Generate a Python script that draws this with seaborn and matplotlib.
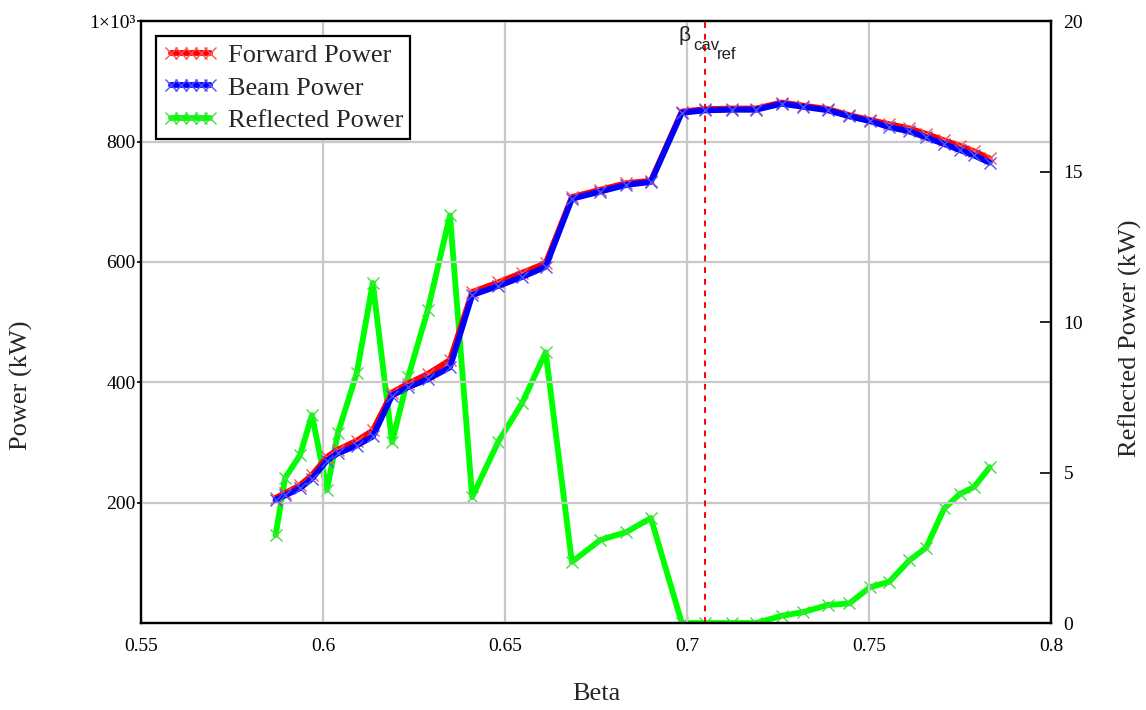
import matplotlib
matplotlib.use("Agg")
import matplotlib.pyplot as plt
import seaborn as sns
import pandas as pd
from matplotlib.ticker import FixedLocator, FuncFormatter

# Cavity beta sweep
beta = [0.587, 0.5896, 0.5937, 0.597, 0.6011, 0.6041, 0.6093, 0.6137, 0.619,
        0.6234, 0.6288, 0.6349, 0.641, 0.6481, 0.6547, 0.6612, 0.6684, 0.6762,
        0.6833, 0.6901, 0.6986, 0.705, 0.7123, 0.719, 0.726, 0.7318, 0.7388,
        0.7446, 0.7503, 0.7556, 0.7611, 0.7657, 0.7707, 0.775, 0.7789, 0.7832]

# Forward power (kW)
forward_kw = [208, 216, 229, 246, 276, 288, 303, 320, 383, 398, 414, 437,
              550, 566, 582, 598, 708, 720, 731, 735, 850, 854, 855, 855,
              865, 860, 854, 844, 836, 829, 822, 813, 802, 793, 784, 772]

# Beam power (kW)
beam_kw = [205, 212, 224, 240, 270, 282, 295, 310, 378, 392, 405, 425,
           545, 560, 575, 592, 705, 717, 728, 733, 848, 852, 853, 853,
           863, 858, 852, 842, 834, 824, 817, 807, 796, 786, 777, 765]

# Reflected power (kW)
reflected_kw = [2.92, 4.82, 5.58, 6.91, 4.42, 6.31, 8.31, 11.30, 6.01, 8.17,
                10.40, 13.55, 4.19, 6.01, 7.31, 9.00, 2.03, 2.76, 3.02, 3.49,
                0.0, 0.0, 0.0, 0.0, 0.24, 0.36, 0.60, 0.65, 1.19, 1.37, 2.08,
                2.50, 3.81, 4.29, 4.52, 5.18]

beta_cav_ref = 0.705

x_ticks = [0.55, 0.6, 0.65, 0.7, 0.75, 0.8]
x_tick_labels = ["0.55", "0.6", "0.65", "0.7", "0.75", "0.8"]
left_ticks = [200, 400, 600, 800, 1000]
right_ticks = [0, 5, 10, 15, 20]

df = pd.DataFrame({"beta": beta, "forward": forward_kw, "beam": beam_kw,
                   "reflected": reflected_kw})

sns.set_style("white")
plt.rcParams["font.family"] = ["Liberation Serif", "DejaVu Serif"]

fig, ax = plt.subplots(figsize=(11.46, 7.10), dpi=100)
fig.subplots_adjust(left=0.123, right=0.917, top=0.970, bottom=0.1225)
ax2 = ax.twinx()

line_kw = dict(linewidth=4.2, marker="x", markersize=8, markeredgewidth=1.0)

sns.lineplot(data=df, x="beta", y="forward", ax=ax, color="#ff0000",
             label="Forward Power", markeredgecolor="#ff5050", **line_kw)
sns.lineplot(data=df, x="beta", y="beam", ax=ax, color="#0000ff",
             label="Beam Power", markeredgecolor="#5050ff", **line_kw)
sns.lineplot(data=df, x="beta", y="reflected", ax=ax2, color="#00ff00",
             label="Reflected Power", markeredgecolor="#40e040", **line_kw)

ax.set_xlim(0.55, 0.8)
ax.set_ylim(0, 1000)
ax2.set_ylim(0, 20)

ax.xaxis.set_major_locator(FixedLocator(x_ticks))
ax.set_xticklabels(x_tick_labels)
ax.yaxis.set_major_locator(FixedLocator(left_ticks))
ax.yaxis.set_major_formatter(FuncFormatter(
    lambda v, p: "1×10³" if v >= 1000 else f"{v:.0f}"))
ax2.yaxis.set_major_locator(FixedLocator(right_ticks))

ax.grid(True, color="#c8c8c8", linewidth=1.6)
ax2.grid(False)
ax.set_axisbelow(True)

for a in (ax, ax2):
    for s in a.spines.values():
        s.set_color("black")
        s.set_linewidth(1.6)

ax.tick_params(axis="x", labelsize=14, colors="black", length=0, pad=11)
ax.tick_params(axis="y", labelsize=14, colors="black", length=3, width=1.2,
               direction="out", pad=1)
ax2.tick_params(axis="y", labelsize=14, colors="black", direction="in",
                length=8, width=1.2, pad=9)

ax.set_xlabel("Beta", fontsize=19, labelpad=20)
ax.set_ylabel("Power (kW)", fontsize=19)
ax2.set_ylabel("Reflected Power (kW)", fontsize=19)
ax.yaxis.set_label_coords(-0.119, 0.395)
ax2.yaxis.set_label_coords(1.074, 0.473)

# Reference cavity beta marker
ax.axvline(beta_cav_ref, color="#ff0000", linestyle=(0, (3, 3)), linewidth=1.4,
           zorder=1)
sub_font = dict(family="Liberation Sans", color="#202020", va="baseline",
                ha="left")
ax.annotate("β", xy=(beta_cav_ref, 1000), xytext=(-19.5, -14),
            textcoords="offset points", fontsize=15, **sub_font)
ax.annotate("cav", xy=(beta_cav_ref, 1000), xytext=(-8.5, -21),
            textcoords="offset points", fontsize=12, **sub_font)
ax.annotate("ref", xy=(beta_cav_ref, 1000), xytext=(8.5, -27),
            textcoords="offset points", fontsize=12, **sub_font)

# Combined legend for both axes
h1, l1 = ax.get_legend_handles_labels()
h2, l2 = ax2.get_legend_handles_labels()
if ax2.get_legend() is not None:
    ax2.get_legend().remove()
leg = ax.legend(h1 + h2, l1 + l2, loc="upper left",
                bbox_to_anchor=(0.016, 0.975), fontsize=19, numpoints=5,
                handlelength=2.1, fancybox=False, frameon=True,
                edgecolor="black", borderpad=0.28, labelspacing=0.34,
                handletextpad=0.35, borderaxespad=0)
leg.get_frame().set_linewidth(1.6)
leg.get_frame().set_alpha(1)
leg.set_zorder(10)
ax.set_zorder(ax2.get_zorder() + 1)
ax.patch.set_visible(False)

fig.savefig("out.png", dpi=100)
